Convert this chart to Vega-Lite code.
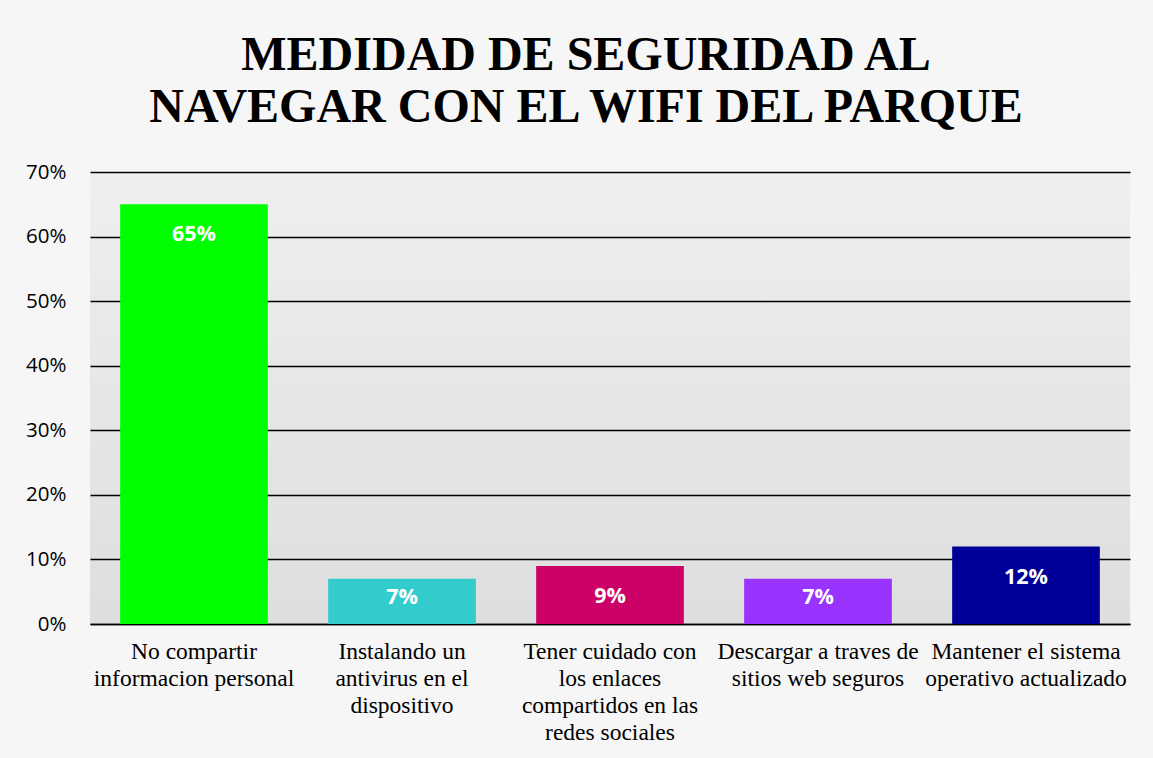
{
  "$schema": "https://vega.github.io/schema/vega-lite/v6.json",
  "width": 1040,
  "height": 452,
  "autosize": {"type": "none"},
  "padding": {"left": 90, "top": 172, "right": 23, "bottom": 134},
  "background": "#f6f6f6",
  "title": {
    "text": ["MEDIDAD DE SEGURIDAD AL", "NAVEGAR CON EL WIFI DEL PARQUE"],
    "font": "Liberation Serif",
    "fontSize": 48,
    "fontWeight": "bold",
    "color": "#000000",
    "lineHeight": 52,
    "anchor": "middle",
    "dx": -24,
    "offset": 30
  },
  "config": {
    "view": {
      "stroke": null,
      "fill": {
        "gradient": "linear",
        "x1": 0, "y1": 0, "x2": 0, "y2": 1,
        "stops": [
          {"offset": 0, "color": "#efefef"},
          {"offset": 1, "color": "#dedede"}
        ]
      }
    }
  },
  "data": {
    "values": [
      {"categoria": "No compartir\ninformacion personal", "valor": 0.65, "etiqueta": "65%", "color": "#00ff00"},
      {"categoria": "Instalando un\nantivirus en el\ndispositivo", "valor": 0.07, "etiqueta": "7%", "color": "#33cccc"},
      {"categoria": "Tener cuidado con\nlos enlaces\ncompartidos en las\nredes sociales", "valor": 0.09, "etiqueta": "9%", "color": "#cc0066"},
      {"categoria": "Descargar a traves de\nsitios web seguros", "valor": 0.07, "etiqueta": "7%", "color": "#9933ff"},
      {"categoria": "Mantener el sistema\noperativo actualizado", "valor": 0.12, "etiqueta": "12%", "color": "#000099"}
    ]
  },
  "encoding": {
    "x": {
      "field": "categoria",
      "type": "nominal",
      "sort": null,
      "scale": {"paddingInner": 0.29, "paddingOuter": 0.145},
      "axis": {
        "title": null,
        "labelAngle": 0,
        "labelExpr": "split(datum.label, '\\n')",
        "labelFont": "Liberation Serif",
        "labelFontSize": 23.5,
        "labelColor": "#000000",
        "labelLineHeight": 27.3,
        "labelPadding": 15,
        "labelBaseline": "top",
        "labelLimit": 0,
        "labelOverlap": false,
        "ticks": false,
        "domainColor": "#000000",
        "domainWidth": 1.5
      }
    },
    "y": {
      "field": "valor",
      "type": "quantitative",
      "scale": {"domain": [0, 0.7], "nice": false},
      "axis": {
        "title": null,
        "format": ".0%",
        "values": [0, 0.1, 0.2, 0.3, 0.4, 0.5, 0.6, 0.7],
        "labelFont": "Open Sans",
        "labelFontSize": 20.5,
        "labelColor": "#000000",
        "labelPadding": 24,
        "ticks": false,
        "domain": false,
        "gridColor": "#000000",
        "gridWidth": 1.5,
        "gridOpacity": 1
      }
    }
  },
  "layer": [
    {
      "mark": {"type": "bar"},
      "encoding": {
        "color": {"field": "color", "type": "nominal", "scale": null, "legend": null}
      }
    },
    {
      "transform": [{"filter": "datum.valor >= 0.09"}],
      "mark": {"type": "text", "color": "#ffffff", "font": "Open Sans", "fontWeight": "bold", "fontSize": 21.5, "baseline": "middle", "dy": 31},
      "encoding": {"text": {"field": "etiqueta"}}
    },
    {
      "transform": [{"filter": "datum.valor < 0.09"}],
      "mark": {"type": "text", "color": "#ffffff", "font": "Open Sans", "fontWeight": "bold", "fontSize": 21.5, "baseline": "middle", "dy": 19},
      "encoding": {"text": {"field": "etiqueta"}}
    }
  ]
}
